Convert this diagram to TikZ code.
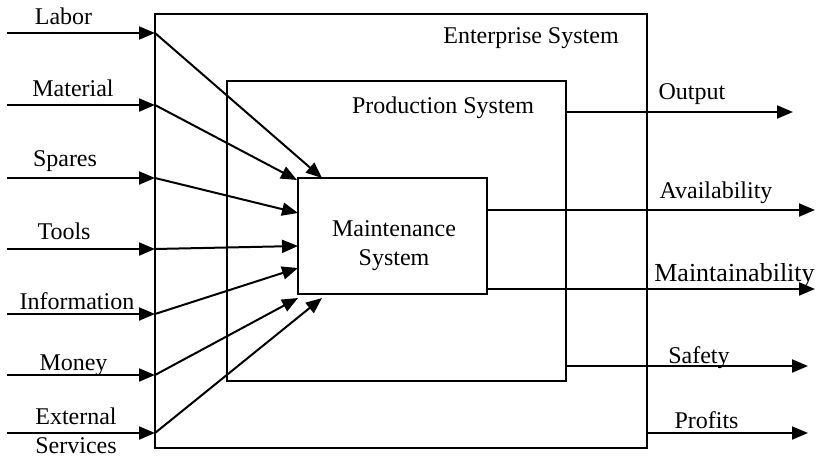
\documentclass[tikz,border=0pt]{standalone}
\usepackage{fontspec}
\setmainfont{Liberation Serif}
\usetikzlibrary{arrows.meta}
\begin{document}
\begin{tikzpicture}[x=1pt,y=-1pt,
  box/.style={draw,line width=2pt,inner sep=0pt,outer sep=0pt},
  arr/.style={line width=2pt,-{Triangle[length=16pt,width=13pt]}},
  lbl/.style={font=\fontsize{24}{27}\selectfont,inner sep=0pt,anchor=base}]
\useasboundingbox (0,0) rectangle (820,458);
% boxes
\node[box,minimum width=492pt,minimum height=434pt] (E) at (401,231) {};
\node[box,minimum width=339pt,minimum height=300pt] (P) at (396.5,231) {};
\node[box,minimum width=189pt,minimum height=116pt] (M) at (392.5,236) {};
% box titles
\node[lbl] (Et) at (531,43) {Enterprise System};
\node[lbl] (Pt) at (443,113) {Production System};
\node[lbl] (Mt1) at (394,236) {Maintenance};
\node[lbl] (Mt2) at (394,265) {System};
% input coordinates
\foreach \n/\y in {la/33,ma/105,sp/178,to/249,in/314,mo/375,ex/433}{
  \coordinate (s\n) at (7,\y);
  \coordinate (e\n) at (155,\y);
}
\coordinate (tla) at (322,178);
\coordinate (tma) at (297,180);
\coordinate (tsp) at (298,213);
\coordinate (tto) at (298,246);
\coordinate (tin) at (298,268);
\coordinate (tmo) at (298,298);
\coordinate (tex) at (322,298);
\foreach \n in {la,ma,sp,to,in,mo,ex}{
  \draw[arr] (s\n) -- (e\n);
  \draw[arr] (e\n) -- (t\n);
}
% input labels
\node[lbl] (Lla) at (63.5,24) {Labor};
\node[lbl] (Lma) at (73,96) {Material};
\node[lbl] (Lsp) at (65,166) {Spares};
\node[lbl] (Lto) at (64,239) {Tools};
\node[lbl] (Lin) at (77,309) {Information};
\node[lbl] (Lmo) at (73.5,370) {Money};
\node[lbl] (Lex) at (76,424) {External};
\node[lbl] (Lse) at (76,453) {Services};
% outputs
\coordinate (oOut) at (P.east |- 0,112);
\coordinate (eOut) at (793,112);
\coordinate (oAv) at (M.east |- 0,210);
\coordinate (eAv) at (815,210);
\coordinate (oMa) at (M.east |- 0,289);
\coordinate (eMa) at (815,289);
\coordinate (oSa) at (P.east |- 0,366);
\coordinate (eSa) at (808,366);
\coordinate (oPr) at (E.east |- 0,433);
\coordinate (ePr) at (808,433);
\foreach \n in {Out,Av,Ma,Sa,Pr}{\draw[arr] (o\n) -- (e\n);}
\node[lbl] (LOut) at (692,99) {Output};
\node[lbl] (LAv) at (716,198) {Availability};
\node[lbl,font=\fontsize{26}{29}\selectfont] (LMa) at (734.5,281) {Maintainability};
\node[lbl] (LSa) at (699,363) {Safety};
\node[lbl] (LPr) at (706.5,428) {Profits};
\end{tikzpicture}
\end{document}
